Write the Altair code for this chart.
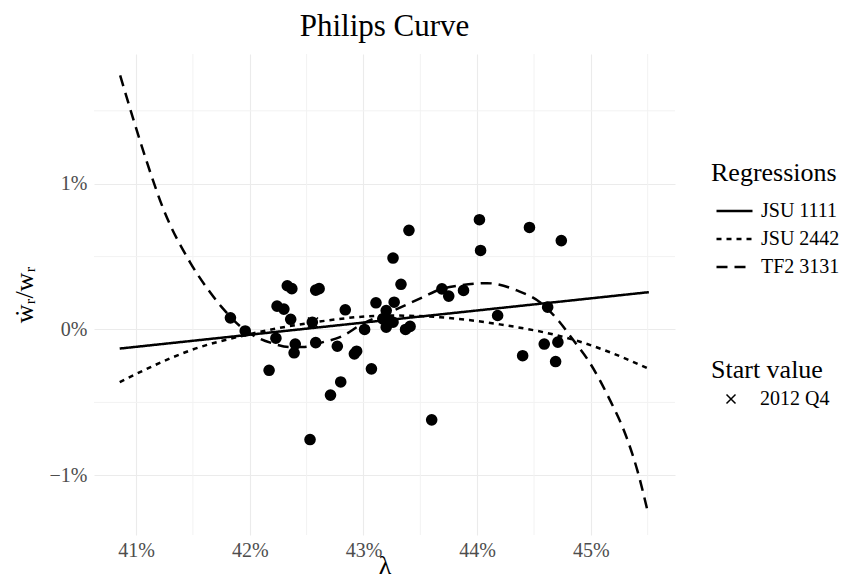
import altair as alt
import pandas as pd

FONT = "Liberation Serif"

# observed data points (percent)
pts_x = [41.83, 41.96, 42.33, 42.37, 42.58, 42.61, 42.24, 42.30, 42.36, 42.23,
         42.40, 42.39, 42.58, 42.55, 42.17, 42.53, 42.71, 42.80, 42.77, 42.92,
         42.94, 42.84, 43.01, 43.07, 43.11, 43.26, 43.33, 43.27, 43.20, 43.17,
         43.23, 43.20, 43.26, 43.37, 43.41, 43.40, 44.02, 44.03, 44.46, 44.74,
         43.69, 43.75, 43.88, 44.18, 44.62, 44.59, 44.71, 44.40, 44.69, 43.60]
pts_y = [0.08, -0.01, 0.30, 0.28, 0.27, 0.28, 0.16, 0.14, 0.07, -0.06,
         -0.10, -0.16, -0.09, 0.05, -0.28, -0.755, -0.45, -0.36, -0.115, -0.167,
         -0.149, 0.135, 0.00, -0.27, 0.183, 0.49, 0.31, 0.187, 0.13, 0.073,
         0.062, 0.016, 0.05, 0.00, 0.021, 0.68, 0.753, 0.542, 0.70, 0.61,
         0.279, 0.229, 0.268, 0.096, 0.153, -0.10, -0.087, -0.18, -0.22, -0.62]

# regression curves (percent)
models = ["JSU 1111", "JSU 2442", "TF2 3131"]
solid_x = [40.856, 45.51]
solid_y = [-0.131, 0.256]
dotted_x = [40.856, 41.15, 41.475, 41.96, 42.556, 43.233, 43.673, 44.2, 44.70, 44.93, 45.18, 45.506]
dotted_y = [-0.361, -0.25, -0.144, -0.039, 0.048, 0.096, 0.084, 0.035, -0.04, -0.09, -0.16, -0.269]
dashed_x = [40.86, 40.977, 41.094, 41.24, 41.475, 41.651, 41.765, 41.941, 42.09, 42.2, 42.354,
            42.468, 42.644, 42.793, 42.996, 43.233, 43.523, 43.673, 43.848, 44.086, 44.349,
            44.552, 44.723, 44.835, 44.995, 45.155, 45.314, 45.41, 45.506]
dashed_y = [1.743, 1.44, 1.151, 0.827, 0.461, 0.255, 0.143, 0.006, -0.064, -0.095, -0.121,
            -0.121, -0.087, -0.053, 0.041, 0.119, 0.222, 0.275, 0.302, 0.318, 0.268,
            0.187, 0.053, -0.062, -0.234, -0.464, -0.74, -0.97, -1.269]

start_label = "2012 Q4"
start_x = [42.556]
start_y = [0.048]

x_ticks = [0.41, 0.42, 0.43, 0.44, 0.45]
y_ticks = [-0.01, 0.0, 0.01]
x_minor = [0.415, 0.425, 0.435, 0.445, 0.455]
y_minor = [-0.005, 0.005, 0.015]

pts = pd.DataFrame({"lam": [v / 100 for v in pts_x], "w": [v / 100 for v in pts_y]})
rows = []
for name, xs, ys in [(models[0], solid_x, solid_y), (models[1], dotted_x, dotted_y), (models[2], dashed_x, dashed_y)]:
    for i, (a, b) in enumerate(zip(xs, ys)):
        rows.append({"lam": a / 100, "w": b / 100, "model": name, "order": i})
lines = pd.DataFrame(rows)
start = pd.DataFrame({"lam": [v / 100 for v in start_x], "w": [v / 100 for v in start_y], "start": [start_label]})
xmin = pd.DataFrame({"lam": x_minor})
ymin = pd.DataFrame({"w": y_minor})

xscale = alt.Scale(domain=[0.4063, 0.4574], nice=False, zero=False)
yscale = alt.Scale(domain=[-0.0141, 0.0189], nice=False, zero=False)

xaxis = alt.Axis(values=x_ticks, format=".0%", title="λ", grid=True, gridColor="#EBEBEB",
                 gridWidth=1.1, domain=False, ticks=False, labelFont=FONT, labelFontSize=20,
                 labelColor="#4D4D4D", labelPadding=5, titleFont=FONT, titleFontSize=26,
                 titleFontWeight="normal", titleColor="black", titlePadding=-8)
yaxis = alt.Axis(values=y_ticks, format=".0%", title="ẇᵣ/wᵣ", grid=True, gridColor="#EBEBEB",
                 gridWidth=1.1, domain=False, ticks=False, labelFont=FONT, labelFontSize=20,
                 labelColor="#4D4D4D", labelPadding=7, titleFont=FONT, titleFontSize=26,
                 titleFontWeight="normal", titleColor="black", titlePadding=12)

X = alt.X("lam:Q", scale=xscale, axis=xaxis)
Y = alt.Y("w:Q", scale=yscale, axis=yaxis)

vminor = alt.Chart(xmin).mark_rule(color="#F2F2F2", strokeWidth=1).encode(x=X)
hminor = alt.Chart(ymin).mark_rule(color="#F2F2F2", strokeWidth=1).encode(y=Y)

points = alt.Chart(pts).mark_circle(size=135, color="black", opacity=1).encode(x=X, y=Y)

line_layer = alt.Chart(lines).mark_line(color="black", strokeWidth=2.5, interpolate="monotone").encode(
    x=X, y=Y, order="order:Q",
    strokeDash=alt.StrokeDash(
        "model:N",
        scale=alt.Scale(domain=models, range=[[1, 0], [5, 5], [11, 7]]),
        legend=alt.Legend(title="Regressions", orient="none", legendX=617, legendY=106,
                          symbolType="stroke", symbolSize=1296, symbolStrokeWidth=2.5,
                          symbolStrokeColor="black", symbolOffset=4, labelOffset=7,
                          clipHeight=26, rowPadding=2,
                          titleFont=FONT, titleFontSize=26, titleFontWeight="normal",
                          titleColor="black", titlePadding=12,
                          labelFont=FONT, labelFontSize=20, labelColor="black"),
    ),
)

start_layer = alt.Chart(start).mark_point(filled=False, color="black", strokeWidth=1.5, size=100, opacity=1).encode(
    x=X, y=Y,
    shape=alt.Shape(
        "start:N",
        scale=alt.Scale(domain=[start_label], range=["M-1,-1L1,1M-1,1L1,-1"]),
        legend=alt.Legend(title="Start value", orient="none", legendX=617, legendY=303,
                          symbolSize=81, symbolStrokeWidth=1.5, symbolStrokeColor="black",
                          symbolFillColor="transparent", symbolOffset=10, labelOffset=19,
                          titleFont=FONT, titleFontSize=26, titleFontWeight="normal",
                          titleColor="black", titlePadding=6,
                          labelFont=FONT, labelFontSize=20, labelColor="black"),
    ),
)

chart = alt.layer(vminor, hminor, start_layer, points, line_layer).properties(
    width=581, height=481,
    title=alt.TitleParams("Philips Curve", font=FONT, fontSize=31, fontWeight="normal",
                          color="black", anchor="middle", offset=11),
    padding={"left": 86, "top": 46, "right": 168, "bottom": 44},
    autosize=alt.AutoSizeParams(type="none"),
).configure_view(stroke=None)

chart.save("out.html", embed_options={"renderer": "svg", "actions": False})
